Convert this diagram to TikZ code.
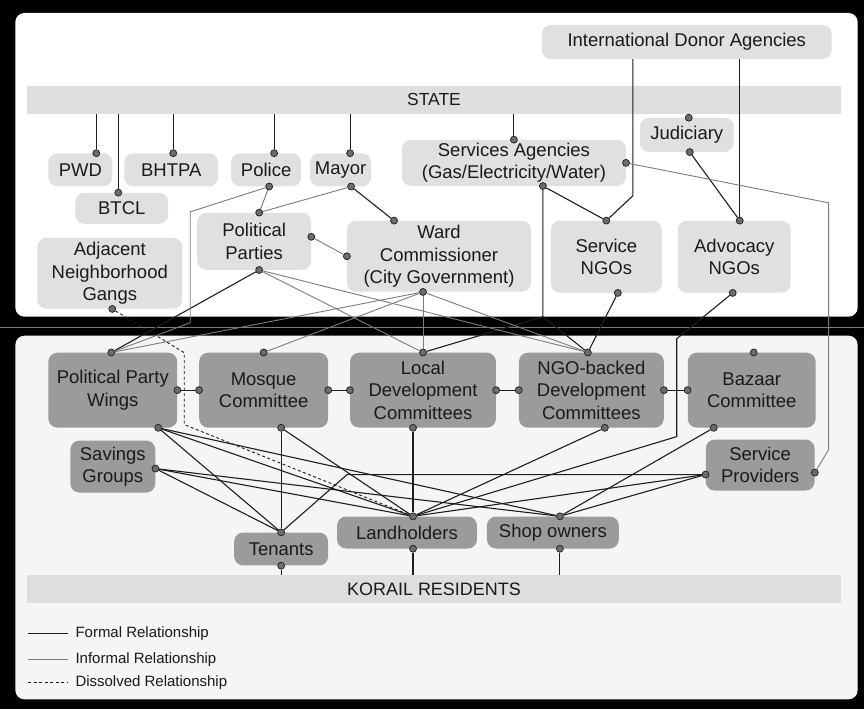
\documentclass[tikz,border=0pt]{standalone}
\usepackage{fontspec}
\setmainfont{Liberation Sans}
\usetikzlibrary{positioning}
\definecolor{topfill}{HTML}{E0E0E0}
\definecolor{botfill}{HTML}{9B9B9B}
\definecolor{barfill}{HTML}{DEDEDE}
\definecolor{lowpanel}{HTML}{F5F5F5}
\definecolor{formalc}{HTML}{1E1E1E}
\definecolor{informalc}{HTML}{7C7C7C}
\definecolor{dotfill}{HTML}{6C6C6C}
\definecolor{inkc}{HTML}{1A1A1A}

\begin{document}
\begin{tikzpicture}[
    x=1pt, y=-1pt,
    every node/.style={text=inkc, font=\fontsize{18.5}{22.5}\selectfont},
    topbox/.style={rectangle, rounded corners=9pt, fill=topfill, inner sep=0pt, align=center},
    lowbox/.style={rectangle, rounded corners=9pt, fill=botfill, inner sep=0pt, align=center},
    bar/.style={rectangle, fill=barfill, inner sep=0pt, minimum width=814pt, minimum height=28pt},
    dot/.style={circle, fill=dotfill, draw=formalc, line width=0.7pt, inner sep=0pt, minimum size=7pt},
    formal/.style={draw=formalc, line width=1.1pt},
    informal/.style={draw=informalc, line width=0.9pt},
    dissolved/.style={draw=formalc, line width=0.9pt, dash pattern=on 3pt off 2.5pt},
    legend/.style={anchor=west, inner sep=0pt, font=\fontsize{15}{18}\selectfont}
  ]
  \fill[black] (0,0) rectangle (864,710);
  \fill[white, rounded corners=9pt] (15,13) rectangle (858,317);
  \fill[lowpanel, rounded corners=9pt] (15,336) rectangle (858,700);
  \draw[informalc, line width=0.8pt] (0,328) -- (864,328);

  \node[bar, font=\fontsize{17.5}{21}\selectfont] (state) at (434,100) {STATE};
  \node[bar, font=\fontsize{18}{21}\selectfont] (korail) at (434,590) {KORAIL RESIDENTS};

  \node[topbox, minimum width=290pt, minimum height=34pt] (ida) at (687,42) {International Donor Agencies};
  \node[topbox, minimum width=64pt, minimum height=33pt] (pwd) at (80,170) {PWD};
  \node[topbox, right of=pwd, node distance=91pt, minimum width=94pt, minimum height=33pt] (bhtpa) {BHTPA};
  \node[topbox, right of=bhtpa, node distance=95pt, minimum width=70pt, minimum height=33pt] (police) {Police};
  \node[topbox, right of=police, node distance=74.5pt, minimum width=61pt, minimum height=33pt] (mayor) {Mayor};
  \node[topbox, minimum width=93pt, minimum height=31pt] (btcl) at (121.5,208.5) {BTCL};
  \node[topbox, minimum width=145pt, minimum height=71pt] (gangs) at (109.5,273.5) {Adjacent\\Neighborhood\\Gangs};
  \node[topbox, minimum width=114pt, minimum height=57pt] (parties) at (254,241.5) {Political\\Parties};
  \node[topbox, minimum width=184pt, minimum height=71pt] (ward) at (439,256.5) {Ward\\Commissioner\\(City Government)};
  \node[topbox, minimum width=224pt, minimum height=46pt] (services) at (514,163) {Services Agencies\\(Gas/Electricity/Water)};
  \node[topbox, minimum width=94pt, minimum height=34pt] (judiciary) at (687,135) {Judiciary};
  \node[topbox, minimum width=111pt, minimum height=72pt] (sngo) at (606.5,257) {Service\\NGOs};
  \node[topbox, right of=sngo, node distance=128pt, minimum width=113pt, minimum height=72pt] (angos) {Advocacy\\NGOs};

  \node[lowbox, minimum width=129pt, minimum height=75pt] (ppw) at (112.5,390.5) {Political Party\\Wings};
  \node[lowbox, right of=ppw, node distance=151pt, minimum width=129pt, minimum height=75pt] (mosque) {Mosque\\Committee};
  \node[lowbox, right of=mosque, node distance=159.5pt, minimum width=146pt, minimum height=75pt] (ldc) {Local\\Development\\Committees};
  \node[lowbox, right of=ldc, node distance=168.5pt, minimum width=145pt, minimum height=75pt] (ngob) {NGO-backed\\Development\\Committees};
  \node[lowbox, right of=ngob, node distance=160.5pt, minimum width=128pt, minimum height=75pt] (bazaar) {Bazaar\\Committee};
  \node[lowbox, minimum width=85pt, minimum height=52pt] (savings) at (112.5,467) {Savings\\Groups};
  \node[lowbox, minimum width=109pt, minimum height=51pt] (sprov) at (760.5,465.5) {Service\\Providers};
  \node[lowbox, minimum width=94pt, minimum height=33pt] (tenants) at (281,549.5) {Tenants};
  \node[lowbox, minimum width=140pt, minimum height=32pt] (landh) at (407,533) {Landholders};
  \node[lowbox, right of=landh, node distance=146pt, minimum width=132pt, minimum height=32pt] (shop) {Shop owners};

  \node[dot] (d-pwd) at ([xshift=16pt]pwd.north) {};
  \node[dot] (d-btcl) at ([xshift=-3.5pt]btcl.north) {};
  \node[dot] (d-bhtpa) at ([xshift=2pt]bhtpa.north) {};
  \node[dot] (d-police) at ([xshift=8pt]police.north) {};
  \node[dot] (d-mayor) at ([xshift=9.5pt]mayor.north) {};
  \node[dot] (d-serv) at (services.north) {};
  \node[dot] (d-jud) at ([xshift=2pt]judiciary.north) {};
  \node[dot] (d-polb) at ([xshift=3pt]police.south) {};
  \node[dot] (d-mayb) at ([xshift=10.5pt]mayor.south) {};
  \node[dot] (d-ppt) at ([xshift=5pt]parties.north) {};
  \node[dot] (d-ppe) at ([yshift=4.5pt]parties.east) {};
  \node[dot] (d-ppb) at ([xshift=5pt]parties.south) {};
  \node[dot] (d-wardw) at (ward.west) {};
  \node[dot] (d-wardt) at ([xshift=-45pt]ward.north) {};
  \node[dot] (d-wardb) at ([xshift=-16pt]ward.south) {};
  \node[dot] (d-gang) at ([xshift=2.5pt]gangs.south) {};
  \node[dot] (d-servb) at ([xshift=29pt]services.south) {};
  \node[dot] (d-serve) at (services.east) {};
  \node[dot] (d-judb) at ([xshift=3pt]judiciary.south) {};
  \node[dot] (d-sngot) at (sngo.north) {};
  \node[dot] (d-sngob) at ([xshift=11.5pt]sngo.south) {};
  \node[dot] (d-angot) at ([xshift=5.5pt]angos.north) {};
  \node[dot] (d-angob) at ([xshift=-1.5pt]angos.south) {};

  \node[dot] (d-ppwt) at ([xshift=-1.5pt]ppw.north) {};
  \node[dot] (d-ppwe) at (ppw.east) {};
  \node[dot] (d-ppwb) at ([xshift=45.5pt]ppw.south) {};
  \node[dot] (d-most) at (mosque.north) {};
  \node[dot] (d-mosw) at (mosque.west) {};
  \node[dot] (d-mose) at (mosque.east) {};
  \node[dot] (d-mosb) at ([xshift=17.5pt]mosque.south) {};
  \node[dot] (d-ldct) at (ldc.north) {};
  \node[dot] (d-ldcw) at (ldc.west) {};
  \node[dot] (d-ldce) at (ldc.east) {};
  \node[dot] (d-ldcb) at ([xshift=-10pt]ldc.south) {};
  \node[dot] (d-ngobt) at ([xshift=-3.5pt]ngob.north) {};
  \node[dot] (d-ngobw) at (ngob.west) {};
  \node[dot] (d-ngobe) at (ngob.east) {};
  \node[dot] (d-ngobb) at ([xshift=13.5pt]ngob.south) {};
  \node[dot] (d-bazt) at ([xshift=2pt]bazaar.north) {};
  \node[dot] (d-bazw) at (bazaar.west) {};
  \node[dot] (d-bazb) at ([xshift=-38pt]bazaar.south) {};
  \node[dot] (d-sav) at ([yshift=-2pt]savings.east) {};
  \node[dot] (d-spw) at ([yshift=-9.5pt]sprov.west) {};
  \node[dot] (d-spe) at ([yshift=-7.5pt]sprov.east) {};
  \node[dot] (d-tent) at (tenants.north) {};
  \node[dot] (d-tenb) at (tenants.south) {};
  \node[dot] (d-landt) at ([xshift=6pt]landh.north) {};
  \node[dot] (d-landb) at ([xshift=6pt]landh.south) {};
  \node[dot] (d-shopt) at ([xshift=7pt]shop.north) {};
  \node[dot] (d-shopb) at ([xshift=7pt]shop.south) {};

  \coordinate (k-pol1) at (190,212);
  \coordinate (k-pol2) at (190,323);
  \coordinate (k-ida) at (633,196);
  \coordinate (k-serv) at (543,317);
  \coordinate (k-sa1) at (829,203);
  \coordinate (k-sa2) at (829,450);
  \coordinate (k-adv1) at (677,339);
  \coordinate (k-adv2) at (677,437);
  \coordinate (k-ten) at (347,475);
  \coordinate (k-gang1) at (184,353);
  \coordinate (k-gang2) at (184,425);

  \foreach \d in {d-pwd,d-btcl,d-bhtpa,d-police,d-mayor,d-serv,d-jud}
    \draw[formal] (\d) -- (\d |- state.south);
  \foreach \d in {d-tenb,d-landb,d-shopb}
    \draw[formal] (\d) -- (\d |- korail.north);

  \draw[formal] ([xshift=-54pt]ida.south) -- (k-ida) -- (d-sngot);
  \draw[formal] ([xshift=53pt]ida.south) -- (d-angot);
  \draw[formal] (d-judb) -- (d-angot);
  \draw[formal] (d-servb) -- (d-sngot);
  \draw[formal] (d-mayb) -- (d-wardt);
  \draw[formal] (d-ppb) -- (d-ppwt);
  \draw[formal] (d-servb) -- (k-serv) -- (d-ldct);
  \draw[formal] (k-serv) -- (d-ngobt);
  \draw[formal] (d-sngob) -- (d-ngobt);
  \draw[formal] (d-angob) -- (k-adv1) -- (k-adv2) -- (d-landt);

  \draw[informal] (d-polb) -- (d-ppt);
  \draw[informal] (d-polb) -- (k-pol1) -- (k-pol2) -- (d-ppwt);
  \draw[informal] (d-mayb) -- (d-ppt);
  \draw[informal] (d-ppe) -- (d-wardw);
  \draw[informal] (d-ppb) -- (d-ldct);
  \draw[informal] (d-ppb) -- (d-ngobt);
  \draw[informal] (d-wardb) -- (d-ppwt);
  \draw[informal] (d-wardb) -- (d-most);
  \draw[informal] (d-wardb) -- (d-ldct);
  \draw[informal] (d-wardb) -- (d-ngobt);
  \draw[informal] (d-serve) -- (k-sa1) -- (k-sa2) -- (d-spe);

  \draw[dissolved] (d-gang) -- (k-gang1) -- (k-gang2) -- (d-landt);

  \draw[formal] (d-ppwe) -- (d-mosw);
  \draw[formal] (d-mose) -- (d-ldcw);
  \draw[formal] (d-ldce) -- (d-ngobw);
  \draw[formal] (d-ngobe) -- (d-bazw);
  \draw[formal] (d-ppwb) -- (d-tent);
  \draw[formal] (d-ppwb) -- (d-landt);
  \draw[formal] (d-ppwb) -- (d-shopt);
  \draw[formal] (d-sav) -- (d-tent);
  \draw[formal] (d-sav) -- (d-landt);
  \draw[formal] (d-sav) -- (d-shopt);
  \draw[formal] (d-mosb) -- (d-tent);
  \draw[formal] (d-mosb) -- (d-landt);
  \draw[formal] (d-ldcb) -- (d-landt);
  \draw[formal] (d-ngobb) -- (d-landt);
  \draw[formal] (d-bazb) -- (d-shopt);
  \draw[formal] (d-spw) -- (d-landt);
  \draw[formal] (d-spw) -- (d-shopt);
  \draw[formal] (d-tent) -- (k-ten) -- (d-spw);

  \node[legend] (lg-formal) at (75,634) {Formal Relationship};
  \node[legend] (lg-informal) at (75,660) {Informal Relationship};
  \node[legend] (lg-dissolved) at (75,683) {Dissolved Relationship};
  \draw[formal, line width=0.9pt] ([xshift=-47pt]lg-formal.west) -- ([xshift=-7pt]lg-formal.west);
  \draw[informal] ([xshift=-47pt]lg-informal.west) -- ([xshift=-7pt]lg-informal.west);
  \draw[dissolved] ([xshift=-47pt]lg-dissolved.west) -- ([xshift=-7pt]lg-dissolved.west);
\end{tikzpicture}
\end{document}
